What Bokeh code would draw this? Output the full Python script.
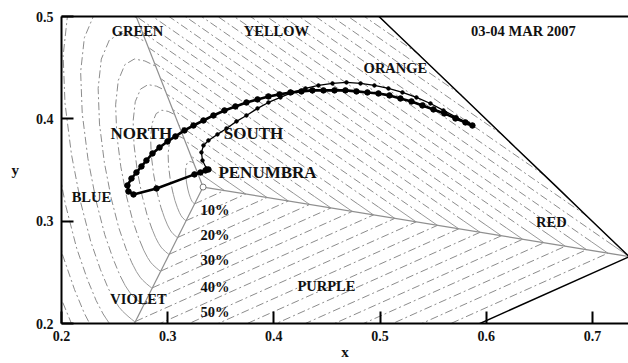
import numpy as np
from bokeh.plotting import figure
from bokeh.models import Range1d, LinearAxis, FixedTicker
from bokeh.embed import file_html
from bokeh.resources import INLINE
from bokeh.core.properties import value

# ---------------- data (CIE x, y) ----------------
north_x = [0.3384, 0.3356, 0.3309, 0.3252, 0.2895, 0.2678, 0.2631, 0.2621, 0.2659,
           0.2706, 0.2753, 0.2800, 0.2857, 0.2923, 0.2998, 0.3073, 0.3158, 0.3243,
           0.3337, 0.3431, 0.3535, 0.3638, 0.3742, 0.3846, 0.3949, 0.4053, 0.4156,
           0.4260, 0.4363, 0.4467, 0.4571, 0.4674, 0.4778, 0.4881, 0.4985, 0.5089,
           0.5192, 0.5296, 0.5399, 0.5503, 0.5606, 0.5710, 0.5804, 0.5870]
north_y = [0.3505, 0.3496, 0.3476, 0.3457, 0.3320, 0.3261, 0.3290, 0.3349, 0.3417,
           0.3476, 0.3535, 0.3593, 0.3662, 0.3720, 0.3779, 0.3828, 0.3887, 0.3935,
           0.3984, 0.4033, 0.4082, 0.4121, 0.4160, 0.4190, 0.4219, 0.4239, 0.4258,
           0.4268, 0.4278, 0.4278, 0.4278, 0.4278, 0.4268, 0.4258, 0.4248, 0.4229,
           0.4199, 0.4170, 0.4131, 0.4092, 0.4053, 0.4004, 0.3965, 0.3935]

south_x = [0.3365, 0.3328, 0.3318, 0.3337, 0.3384, 0.3469, 0.3554, 0.3648, 0.3742,
           0.3846, 0.3949, 0.4062, 0.4175, 0.4298, 0.4420, 0.4552, 0.4684, 0.4816,
           0.4947, 0.5079, 0.5211, 0.5343, 0.5475, 0.5597, 0.5720, 0.5832]
south_y = [0.3515, 0.3593, 0.3672, 0.3740, 0.3789, 0.3848, 0.3906, 0.3975, 0.4033,
           0.4102, 0.4160, 0.4209, 0.4258, 0.4297, 0.4326, 0.4346, 0.4356, 0.4346,
           0.4326, 0.4297, 0.4258, 0.4209, 0.4150, 0.4082, 0.4014, 0.3955]

# reference chromaticity points
white_point = (1.0 / 3.0, 1.0 / 3.0)
red_vertex = (0.7347, 0.2653)        # 700 nm
violet_vertex = (0.1741, 0.0050)     # 380 nm
green_vertex = (0.221, 0.635)        # vertex of the yellow/red family on the 530 nm ray
green_ray_end = (0.1547, 0.8059)     # 530 nm

# blue-green spectral locus, 380 .. 530 nm
locus_blue_x = [0.1741, 0.1733, 0.1714, 0.1644, 0.1566, 0.1440, 0.1355, 0.1241, 0.1096,
                0.0913, 0.0687, 0.0454, 0.0235, 0.0082, 0.0039, 0.0139, 0.0389, 0.0743,
                0.1142, 0.1547]
locus_blue_y = [0.0050, 0.0048, 0.0051, 0.0109, 0.0177, 0.0297, 0.0399, 0.0578, 0.0868,
                0.1327, 0.2007, 0.2950, 0.4127, 0.5384, 0.6548, 0.7502, 0.8120, 0.8338,
                0.8262, 0.8059]
# yellow-red spectral locus, 560 .. 700 nm
locus_red_x = [0.3731, 0.4441, 0.5125, 0.5752, 0.6270, 0.6658, 0.6915, 0.7190, 0.7347]
locus_red_y = [0.6245, 0.5547, 0.4866, 0.4242, 0.3725, 0.3340, 0.3083, 0.2809, 0.2653]

purity_levels = [0.05, 0.10, 0.15, 0.20, 0.25, 0.30, 0.35, 0.40, 0.45, 0.50,
                 0.55, 0.60, 0.65, 0.70, 0.75, 0.80, 0.85, 0.90, 0.95]
upper_levels = [0.05, 0.10, 0.15, 0.20, 0.25, 0.30, 0.35, 0.40, 0.45, 0.50,
                0.55, 0.60, 0.65, 0.70, 0.75, 0.80, 0.85, 0.90, 0.95, 1.00,
                1.05, 1.10, 1.15, 1.20, 1.25, 1.30]

percent_text = ["10%", "20%", "30%", "40%", "50%"]
percent_y = [0.3114, 0.2862, 0.2616, 0.2352, 0.2108]

region_text = ["GREEN", "YELLOW", "03-04 MAR 2007", "ORANGE", "BLUE", "VIOLET", "PURPLE", "RED"]
region_x = [0.2716, 0.4024, 0.635, 0.5145, 0.2282, 0.2725, 0.4495, 0.6614]
region_y = [0.4863, 0.4863, 0.4863, 0.4493, 0.3241, 0.2244, 0.2362, 0.2987]

big_text = ["NORTH", "SOUTH", "PENUMBRA"]
big_x = [0.2753, 0.3808, 0.3940]
big_y = [0.3857, 0.3857, 0.3476]

x_ticks = [0.2, 0.3, 0.4, 0.5, 0.6, 0.7]
y_ticks = [0.2, 0.3, 0.4, 0.5]

# ---------------- geometry helpers ----------------
SX, SY = 1062.0, 1023.0   # approx px per unit (for solid-segment lengths only)
W = np.array(white_point)


def scaled(pt, s):
    return W + s * (np.array(pt) - W)


def clip_locus(p0, p1):
    f0 = p0[0] + p0[1] - 1.0
    f1 = p1[0] + p1[1] - 1.0
    if f0 <= 0 and f1 <= 0:
        return p0, p1, True
    if f0 > 0 and f1 > 0:
        return None
    t = f0 / (f0 - f1)
    pm = p0 + t * (p1 - p0)
    if f0 > 0:
        return pm, p1, False
    return p0, pm, True


def split_poly(pts, L):
    d = np.diff(pts, axis=0)
    seg = np.hypot(d[:, 0] * SX, d[:, 1] * SY)
    cum = np.concatenate([[0.0], np.cumsum(seg)])
    if cum[-1] <= L:
        return pts, None
    i = int(np.searchsorted(cum, L))
    t = (L - cum[i - 1]) / seg[i - 1]
    pm = pts[i - 1] + t * (pts[i] - pts[i - 1])
    return np.vstack([pts[:i], pm]), np.vstack([pm, pts[i:]])


dash_xs, dash_ys, solid_xs, solid_ys = [], [], [], []

# yellow / orange / red family
for s in upper_levels:
    r = clip_locus(scaled(red_vertex, s), scaled(green_vertex, s))
    if r is None:
        continue
    a, b, starts_on_ray = r
    pts = np.vstack([a, b])
    if starts_on_ray:
        sol, rest = split_poly(pts, 20.0)
        solid_xs.append(list(sol[:, 0])); solid_ys.append(list(sol[:, 1]))
        if rest is not None:
            dash_xs.append(list(rest[:, 0])); dash_ys.append(list(rest[:, 1]))
    else:
        dash_xs.append(list(pts[:, 0])); dash_ys.append(list(pts[:, 1]))

# blue / green family
locus_blue = np.column_stack([locus_blue_x, locus_blue_y])
for s in purity_levels:
    pts = W + s * (locus_blue - W)
    sol, rest = split_poly(pts, 30.0)
    solid_xs.append(list(sol[:, 0])); solid_ys.append(list(sol[:, 1]))
    if rest is not None:
        dash_xs.append(list(rest[:, 0])); dash_ys.append(list(rest[:, 1]))

# purple family
for s in purity_levels:
    a = scaled(violet_vertex, s)
    b = scaled(red_vertex, s)
    dash_xs.append([a[0], b[0]]); dash_ys.append([a[1], b[1]])

# ---------------- figure ----------------
p = figure(width=628, height=363, x_range=Range1d(0.2, 0.734), y_range=Range1d(0.2, 0.5),
           output_backend="svg", toolbar_location=None,
           min_border_left=61, min_border_right=0, min_border_top=16, min_border_bottom=40)
p.outline_line_color = None
p.grid.visible = False
p.background_fill_color = "white"

GRAY = "#8c8c8c"
p.multi_line(dash_xs, dash_ys, line_color=GRAY, line_width=1, line_dash="8 3 2 3")
p.multi_line(solid_xs, solid_ys, line_color="#9a9a9a", line_width=1)

# rays from the white point
for end in (red_vertex, violet_vertex, green_ray_end):
    p.line([W[0], end[0]], [W[1], end[1]], line_color="#8f8f8f", line_width=1.2)

# gamut boundary
p.line(locus_red_x, locus_red_y, line_color="black", line_width=1.5)
p.line([red_vertex[0], violet_vertex[0]], [red_vertex[1], violet_vertex[1]],
       line_color="black", line_width=1.5)

# tracks
p.line(south_x, south_y, line_color="black", line_width=1.3)
p.scatter(south_x, south_y, size=3.5, color="black")
p.line(north_x, north_y, line_color="black", line_width=2.6)
p.scatter(north_x, north_y, size=5.5, color="black")

p.scatter([W[0]], [W[1]], size=6, fill_color="white", line_color="#777777")

FONT = value("Liberation Serif")
p.text(region_x, region_y, text=region_text, text_font=FONT, text_font_style="bold",
       text_font_size="14.5px", text_align="center", text_baseline="middle", text_color="#111111")
p.text(big_x, big_y, text=big_text, text_font=FONT, text_font_style="bold",
       text_font_size="17px", text_align="center", text_baseline="middle", text_color="#111111")
p.text([0.3309] * len(percent_text), percent_y, text=percent_text, text_font=FONT,
       text_font_style="bold", text_font_size="14.5px", text_align="left",
       text_baseline="middle", text_color="#111111")

# axes
p.xaxis.ticker = FixedTicker(ticks=x_ticks)
p.yaxis.ticker = FixedTicker(ticks=y_ticks)
for ax in (p.xaxis[0], p.yaxis[0]):
    ax.axis_line_width = 2
    ax.axis_line_color = "black"
    ax.major_tick_in = 12
    ax.major_tick_out = 0
    ax.major_tick_line_width = 2
    ax.minor_tick_line_color = None
    ax.major_label_text_font = "Liberation Serif"
    ax.major_label_text_font_style = "bold"
    ax.major_label_text_font_size = "14px"
    ax.major_label_text_color = "#111111"
    ax.axis_label_text_font = "Liberation Serif"
    ax.axis_label_text_font_style = "bold"
    ax.axis_label_text_font_size = "15px"
    ax.axis_label_text_color = "#111111"
p.xaxis.major_label_standoff = 7
p.yaxis.major_label_standoff = 8
p.xaxis.axis_label = "x"
p.xaxis.axis_label_standoff = 0
p.yaxis.axis_label = "y"
p.yaxis.axis_label_standoff = 14
try:
    p.yaxis[0].axis_label_orientation = "horizontal"
except Exception:
    pass

top = LinearAxis(ticker=FixedTicker(ticks=[]), axis_line_width=2, axis_line_color="black",
                 major_tick_line_color=None, minor_tick_line_color=None,
                 major_label_text_font_size="0px")
p.add_layout(top, "above")

open("out.html", "w").write(file_html(p, INLINE))
